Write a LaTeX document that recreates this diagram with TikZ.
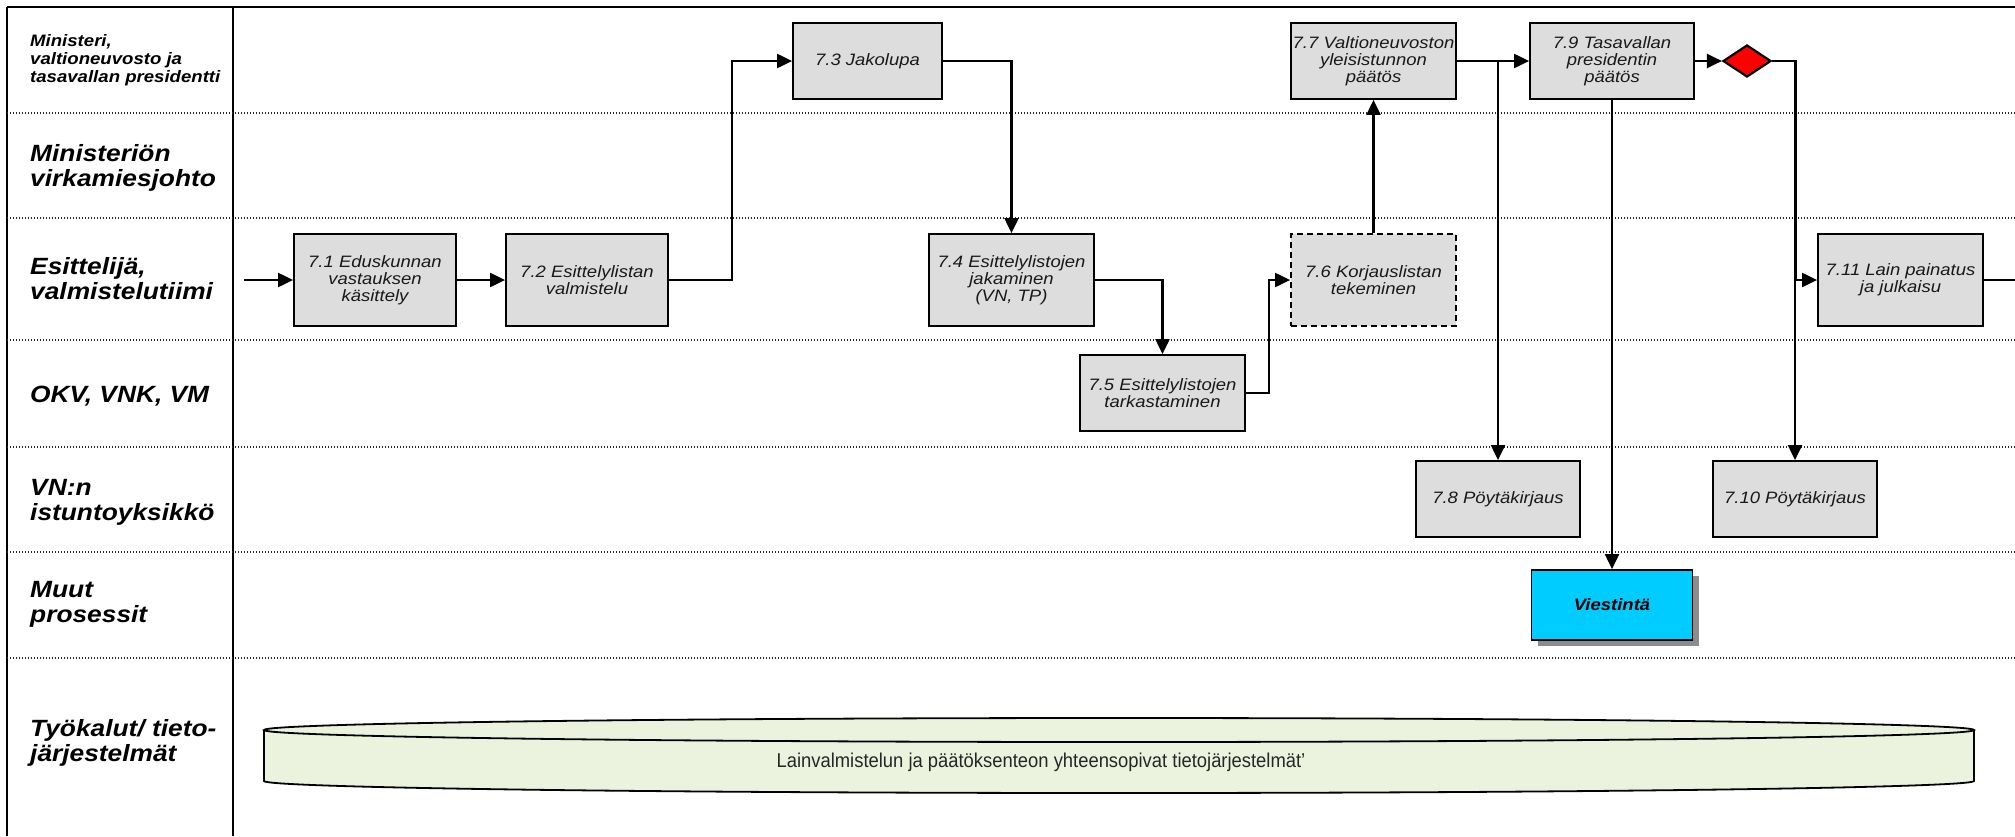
\documentclass[tikz,border=0pt]{standalone}
\usepackage{fontspec}
\setmainfont{Liberation Sans}
\newfontfamily\wfont[FakeStretch=1.12]{Liberation Sans}
\newfontfamily\dbfam[FakeStretch=0.92]{Liberation Sans}
\usetikzlibrary{arrows.meta,shapes.geometric,shadows}
\definecolor{boxgray}{HTML}{DDDDDD}
\definecolor{dbgreen}{HTML}{EBF3DE}
\definecolor{msgcyan}{HTML}{00CCFF}
\newcommand\lnfont{\fontsize{23.5}{24.5}\wfont\bfseries\itshape}
\newcommand\lnsmallfont{\fontsize{16.6}{17.7}\wfont\bfseries\itshape}
\newcommand\procfont{\fontsize{16.5}{17}\wfont\itshape}
\newcommand\dbtextfont{\fontsize{20}{22}\dbfam}

\begin{document}
\begin{tikzpicture}[x=1pt,y=-1pt,
  proc/.style={draw=black, line width=1.8pt, fill=boxgray, align=center,
    inner sep=0pt, minimum width=165pt, minimum height=76pt,
    font=\procfont, text=black!90},
  tallproc/.style={proc, minimum height=92pt},
  flow/.style={line width=2.1pt, -{Triangle[length=15pt,width=14pt]}},
  plainline/.style={line width=2.1pt},
  lane/.style={line width=1.3pt, black!85, dash pattern=on 1.2pt off 1.8pt},
  lanelabel/.style={anchor=base west, align=left, inner sep=0pt, font=\lnfont},
]
\useasboundingbox (0,0) rectangle (2015,836);

% swimlane frame
\draw[line width=2.5pt] (7,7) -- (2015,7);
\draw[line width=2pt] (7,7) -- (7,836);
\draw[line width=1.3pt] (233,7) -- (233,836);
\foreach \y in {113,218,340,447,552,658}
  \draw[lane] (7,\y) -- (2015,\y);

% lane titles (anchored at the baseline of their last line)
\node[lanelabel, font=\lnsmallfont] (l1) at (30,82) {Ministeri,\\valtioneuvosto ja\\tasavallan presidentti};
\node[lanelabel] (l2) at (30,186) {Ministeriön\\virkamiesjohto};
\node[lanelabel] (l3) at (30,299) {Esittelijä,\\valmistelutiimi};
\node[lanelabel] (l4) at (30,402) {OKV, VNK, VM};
\node[lanelabel] (l5) at (30,520) {VN:n\\istuntoyksikkö};
\node[lanelabel] (l6) at (30,622) {Muut\\prosessit};
\node[lanelabel] (l7) at (30,761) {Työkalut/ tieto-\\järjestelmät};

% process steps
\node[tallproc, minimum width=162pt] (n71) at (375,280) {7.1 Eduskunnan\\vastauksen\\käsittely};
\node[tallproc, minimum width=162pt] (n72) at (587,280) {7.2 Esittelylistan\\valmistelu};
\node[proc, minimum width=149pt] (n73) at (867.5,61) {7.3 Jakolupa};
\node[tallproc] (n74) at (1011.5,280) {7.4 Esittelylistojen\\jakaminen\\(VN, TP)};
\node[proc] (n75) at (1162.5,393) {7.5 Esittelylistojen\\tarkastaminen};
\node[tallproc, dash pattern=on 6pt off 4pt] (n76) at (1373.5,280) {7.6 Korjauslistan\\tekeminen};
\node[proc] (n77) at (1373.5,61) {7.7 Valtioneuvoston\\yleisistunnon\\päätös};
\node[proc, minimum width=164pt] (n78) at (1498,499) {7.8 Pöytäkirjaus};
\node[proc, minimum width=164pt] (n79) at (1612,61) {7.9 Tasavallan\\presidentin\\päätös};
\node[proc, minimum width=164pt] (n710) at (1795,499) {7.10 Pöytäkirjaus};
\node[tallproc] (n711) at (1900.5,280) {7.11 Lain painatus\\ja julkaisu};
\node[proc, fill=msgcyan, minimum width=161pt, minimum height=70pt,
  font=\procfont\bfseries, text=black,
  drop shadow={shadow xshift=6pt, shadow yshift=-6pt, fill=black!45, opacity=1}]
  (vi) at (1612,605) {Viestintä};
\node[diamond, draw=black, fill=red, line width=2.2pt, inner sep=0pt,
  minimum width=48pt, minimum height=32pt] (dec) at (1747,61) {};

% shared information systems
\fill[dbgreen] (264,730) -- (264,781)
  arc[start angle=180, end angle=360, x radius=855pt, y radius=12pt]
  -- (1974,730) -- cycle;
\draw[line width=1.8pt] (264,730) -- (264,781)
  arc[start angle=180, end angle=360, x radius=855pt, y radius=12pt]
  -- (1974,730);
\draw[line width=1.8pt, fill=dbgreen] (1119,730) ellipse[x radius=855pt, y radius=12pt];
\node[font=\dbtextfont, text=black!85, inner sep=0pt] (db) at (1041,762)
  {Lainvalmistelun ja päätöksenteon yhteensopivat tietojärjestelmät’};

% flow
\coordinate (start) at (244,280);
\coordinate (exit) at (2015,280);
\draw[flow] (start) -- (n71.west);
\draw[flow] (n71) -- (n72);
\draw[flow] (n72.east) -- ++(63,0) |- (n73.west);
\draw[flow] (n73.east) -| (n74.north);
\draw[flow] (n74.east) -| (n75.north);
\draw[flow] (n75.east) -- ++(23,0) |- (n76.west);
\draw[flow] (n76.north) -- (n77.south);
\draw[flow] (n77.east) -- (n79.west);
\draw[flow] (n77.east) -| (n78.north);
\draw[flow] (n79.south) -- (vi.north);
\draw[flow] (n79.east) -- (dec.west);
\draw[flow] (dec.east) -| (n710.north);
\draw[flow] (dec.east) -- ++(24,0) |- (n711.west);
\draw[plainline] (n711.east) -- (exit);
\end{tikzpicture}
\end{document}
